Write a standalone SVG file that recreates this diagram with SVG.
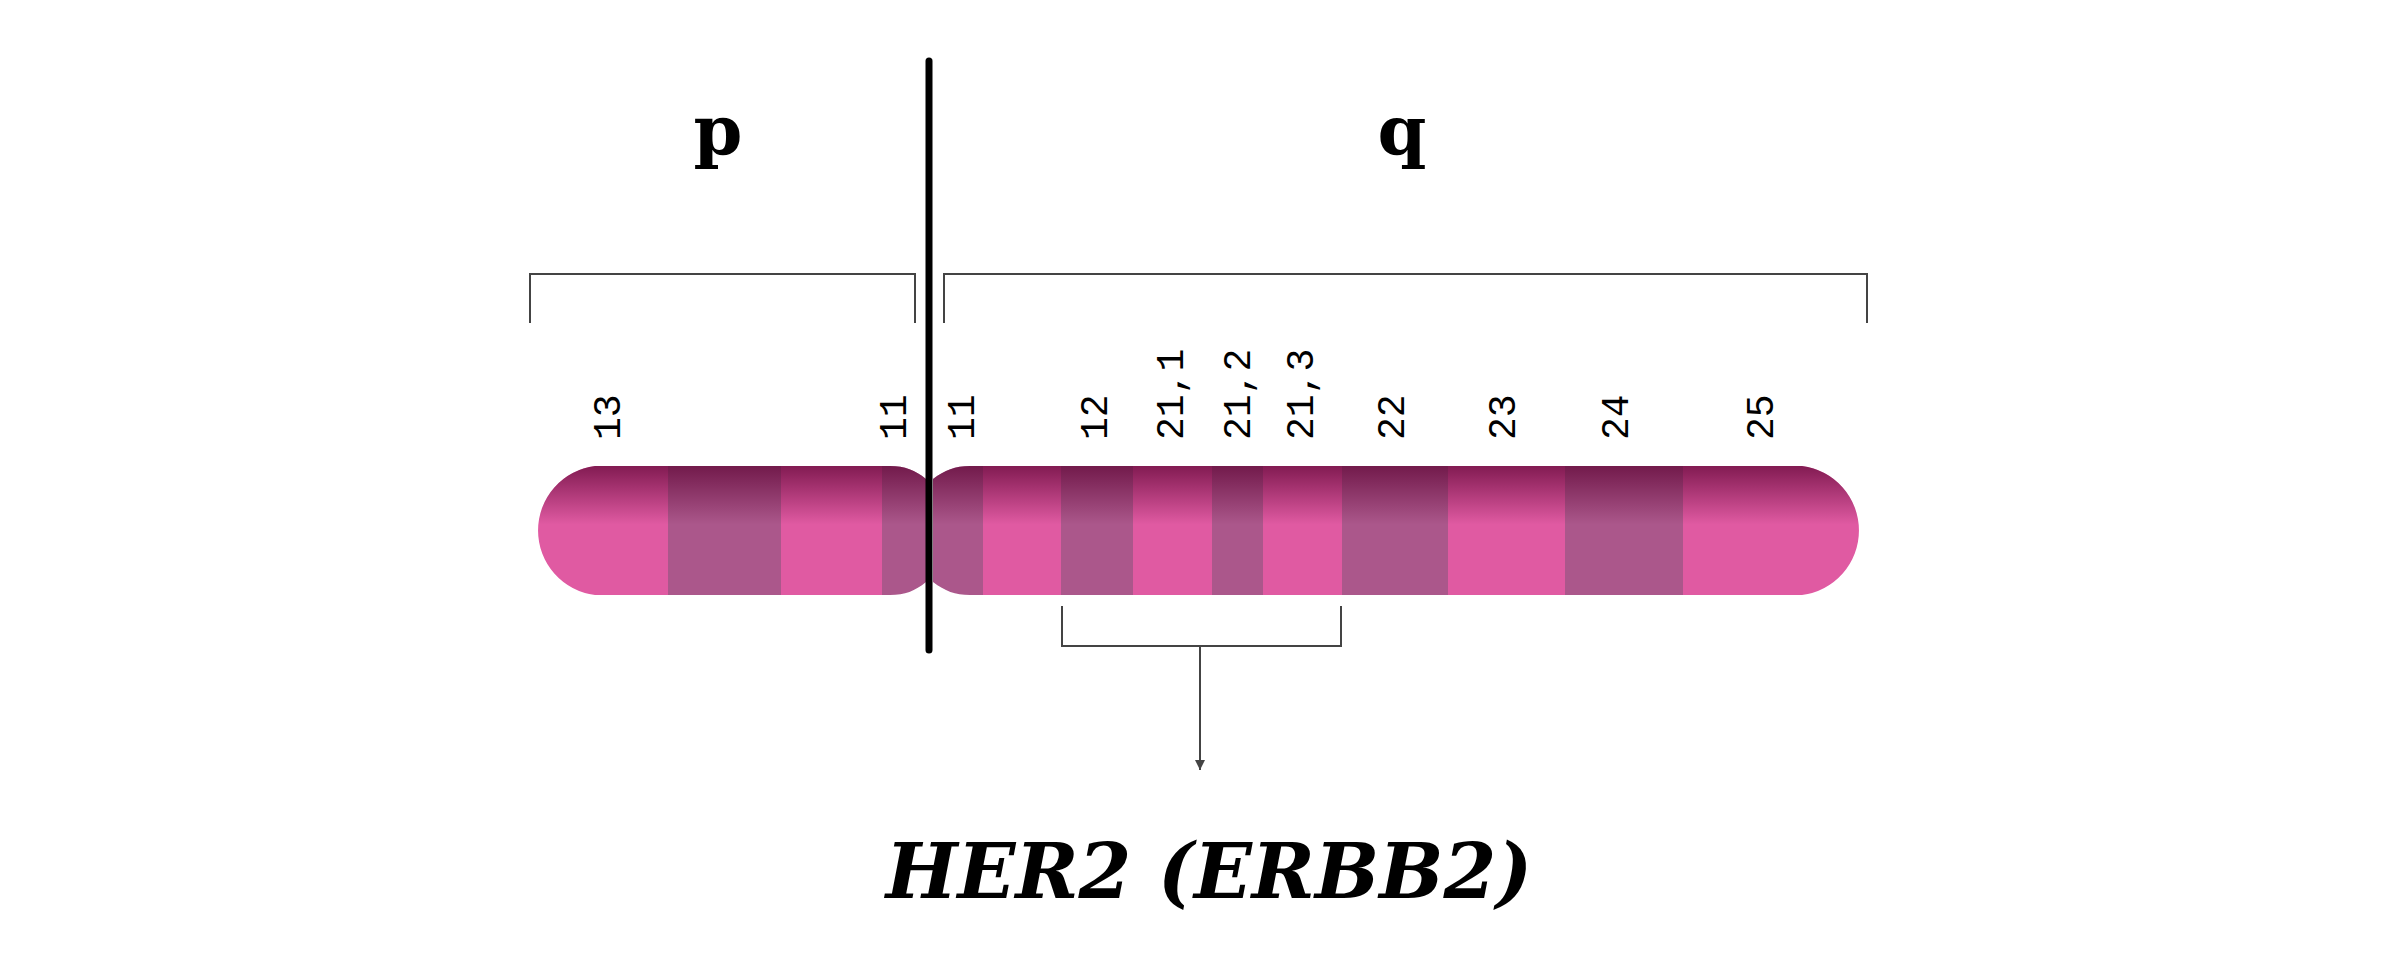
<svg xmlns="http://www.w3.org/2000/svg" width="2400" height="980" viewBox="0 0 2400 980">
<style>
.br{fill:none;stroke:#444;stroke-width:2}
.lb{font-family:"Liberation Mono",monospace;font-size:38px;fill:#000}
.arm{font-family:"DejaVu Serif",serif;font-weight:bold;font-size:70px;fill:#000;text-anchor:middle}
.lt{fill:#e05aa2}.dk{fill:#ab578b}
</style>
<defs>
<linearGradient id="sh" x1="0" y1="0" x2="0" y2="1">
<stop offset="0" stop-color="#5a0030" stop-opacity="0.7"/>
<stop offset="0.45" stop-color="#5a0030" stop-opacity="0"/>
</linearGradient>
<clipPath id="ch">
<path d="M595,466 H890 C905,466 915,470 926,479 V582 C915,591 905,595 890,595 H595 A65,65 0 0 1 595,466 Z"/>
<path d="M970,466 H1802 A65,65 0 0 1 1802,595 H970 C955,595 945,591 933,582 V479 C945,470 955,466 970,466 Z"/>
</clipPath>
<marker id="ar" markerWidth="12" markerHeight="12" refX="10" refY="5" orient="auto" markerUnits="userSpaceOnUse"><path d="M0,0 L10,5 L0,10 Z" fill="#444"/></marker>
</defs>
<g id="chromosome" clip-path="url(#ch)">
<rect class="lt" x="520" y="460" width="150" height="140"/>
<rect class="dk" x="668" y="460" width="113" height="140"/>
<rect class="lt" x="781" y="460" width="101" height="140"/>
<rect class="dk" x="882" y="460" width="101" height="140"/>
<rect class="lt" x="983" y="460" width="78" height="140"/>
<rect class="dk" x="1061" y="460" width="72" height="140"/>
<rect class="lt" x="1133" y="460" width="79" height="140"/>
<rect class="dk" x="1212" y="460" width="51" height="140"/>
<rect class="lt" x="1263" y="460" width="79" height="140"/>
<rect class="dk" x="1342" y="460" width="106" height="140"/>
<rect class="lt" x="1448" y="460" width="117" height="140"/>
<rect class="dk" x="1565" y="460" width="118" height="140"/>
<rect class="lt" x="1683" y="460" width="200" height="140"/>
<rect fill="url(#sh)" x="520" y="466" width="1370" height="130"/>
</g>
<g id="connectors">
<path class="br" d="M530,323 V274 H915 V323"/>
<path class="br" d="M944,323 V274 H1867 V323"/>
<path class="br" d="M1062,606 V646 H1341 V606"/>
<path class="br" d="M1200,646 V770" marker-end="url(#ar)"/>
<line x1="929" y1="61" x2="929" y2="650" stroke="#000" stroke-width="7" stroke-linecap="round"/>
</g>
<g id="arm-labels">
<text class="arm" x="718" y="155">p</text>
<text class="arm" x="1402" y="155">q</text>
</g>
<g id="band-labels" class="lb">
<text transform="translate(609,440) rotate(-90)" dominant-baseline="central">13</text>
<text transform="translate(895,440) rotate(-90)" dominant-baseline="central">11</text>
<text transform="translate(963,440) rotate(-90)" dominant-baseline="central">11</text>
<text transform="translate(1096,440) rotate(-90)" dominant-baseline="central">12</text>
<text transform="translate(1172,440) rotate(-90)" dominant-baseline="central">21,1</text>
<text transform="translate(1239,440) rotate(-90)" dominant-baseline="central">21,2</text>
<text transform="translate(1302,440) rotate(-90)" dominant-baseline="central">21,3</text>
<text transform="translate(1393,440) rotate(-90)" dominant-baseline="central">22</text>
<text transform="translate(1504,440) rotate(-90)" dominant-baseline="central">23</text>
<text transform="translate(1617,440) rotate(-90)" dominant-baseline="central">24</text>
<text transform="translate(1762,440) rotate(-90)" dominant-baseline="central">25</text>
</g>
<g id="gene">
<text x="1209" y="898" text-anchor="middle" font-family="DejaVu Serif, serif" font-weight="bold" font-style="italic" font-size="76">HER2 (ERBB2)</text>
</g>
</svg>
